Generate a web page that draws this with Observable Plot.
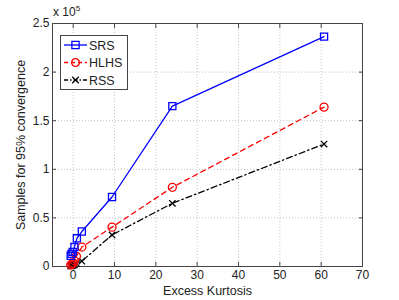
<!DOCTYPE html>
<html><head><meta charset="utf-8">
<script src="https://cdn.jsdelivr.net/npm/d3@7"></script>
<script src="https://cdn.jsdelivr.net/npm/@observablehq/plot@0.6"></script>
<style>body{margin:0;background:#fff}svg{font-family:"Liberation Sans",Arial,sans-serif}</style>
</head><body><div id="chart"></div>
<script>
// Excess kurtosis (x) and samples for 95% convergence (y)
const srsX = [-0.6, -0.4, -0.1, 0.3, 0.9, 2.1, 9.4, 24, 60.7];
const srsY = [110000, 130000, 150000, 200000, 290000, 360000, 715000, 1650000, 2365000];
const hlhsX = [-0.6, -0.3, 0, 0.3, 0.8, 2.1, 9.4, 24, 60.7];
const hlhsY = [15000, 25000, 35000, 60000, 105000, 200000, 405000, 815000, 1640000];
const rssX = [-0.6, -0.3, 0, 0.3, 0.8, 2.1, 9.4, 24, 60.7];
const rssY = [5000, 8000, 12000, 18000, 30000, 55000, 325000, 650000, 1260000];
const seriesNames = ["SRS", "HLHS", "RSS"];
const xTicks = [0, 10, 20, 30, 40, 50, 60, 70];
const yTickVals = [0, 0.5, 1, 1.5, 2, 2.5];

// values are plotted in units of 10^5 samples
const toRows = (xs, ys, s) => xs.map((x, i) => ({x, y: ys[i] / 1e6, s}));
const srs = toRows(srsX, srsY, "SRS");
const hlhs = toRows(hlhsX, hlhsY, "HLHS");
const rss = toRows(rssX, rssY, "RSS");

const colors = {SRS: "#0000ff", HLHS: "#ff0000", RSS: "#000000"};
const dashes = {SRS: null, HLHS: "5,4", RSS: "6,3,1.5,3"};
const grid = {stroke: "#b0b0b0", strokeDasharray: "1,2", strokeWidth: 0.8};

const plot = Plot.plot({
  width: 399, height: 300,
  marginLeft: 52, marginRight: 37, marginTop: 23, marginBottom: 34,
  style: {fontSize: "12px", fontFamily: "Liberation Sans, Arial, sans-serif", background: "#fff"},
  x: {domain: [-5, 70], ticks: xTicks},
  y: {domain: [0, 2.5], ticks: yTickVals},
  marks: [
    Plot.ruleX(xTicks.slice(0, -1), {...grid}),
    Plot.ruleY(yTickVals.slice(1, -1), {...grid}),
    Plot.frame({stroke: "#444", strokeWidth: 1}),
    Plot.axisX({ticks: xTicks, tickSize: -4, tickPadding: 8, tickFormat: d => d, stroke: "#444", color: "#222", label: null}),
    Plot.axisX({ticks: xTicks, anchor: "top", tickSize: -4, tickFormat: () => "", stroke: "#444", label: null}),
    Plot.axisY({ticks: yTickVals, tickSize: -4, tickPadding: 7, tickFormat: d => d, stroke: "#444", color: "#222", label: null}),
    Plot.axisY({ticks: yTickVals, anchor: "right", tickSize: -4, tickFormat: () => "", stroke: "#444", label: null}),
    Plot.line(rss, {x: "x", y: "y", stroke: colors.RSS, strokeWidth: 1.3, strokeDasharray: dashes.RSS}),
    Plot.line(hlhs, {x: "x", y: "y", stroke: colors.HLHS, strokeWidth: 1.3, strokeDasharray: dashes.HLHS}),
    Plot.line(srs, {x: "x", y: "y", stroke: colors.SRS, strokeWidth: 1.3}),
    Plot.dot(rss, {x: "x", y: "y", symbol: "times", r: 3, stroke: colors.RSS, strokeWidth: 1.3}),
    Plot.dot(hlhs, {x: "x", y: "y", symbol: "circle", r: 4, stroke: colors.HLHS, strokeWidth: 1.3}),
    Plot.dot(srs, {x: "x", y: "y", symbol: "square", r: 4, stroke: colors.SRS, strokeWidth: 1.3}),
    Plot.text(["Excess Kurtosis"], {frameAnchor: "bottom", dy: 28, fontSize: 12.5, fill: "#222"}),
    Plot.text(["Samples for 95% convergence"], {frameAnchor: "left", textAnchor: "middle", dx: -32, rotate: -90, fontSize: 12.5, fill: "#222"})
  ]
});

const svg = d3.select(plot);
// exponent label
const ex = svg.append("text").attr("x", 53).attr("y", 16).attr("font-size", 12)
  .attr("text-anchor", "start").attr("fill", "#222");
ex.append("tspan").text("x 10");
ex.append("tspan").attr("dy", -5).attr("font-size", 8).text("5");

// legend
const lg = svg.append("g").attr("text-anchor", "start");
lg.append("rect").attr("x", 60.5).attr("y", 35.5).attr("width", 67).attr("height", 54)
  .attr("fill", "#fff").attr("stroke", "#444").attr("stroke-width", 1);
const symFor = {SRS: d3.symbolSquare, HLHS: d3.symbolCircle, RSS: d3.symbolTimes};
const symSize = {SRS: 52, HLHS: 48, RSS: 30};
seriesNames.forEach((name, i) => {
  const yy = 45 + i * 17.5;
  lg.append("line").attr("x1", 64).attr("x2", 87).attr("y1", yy).attr("y2", yy)
    .attr("stroke", colors[name]).attr("stroke-width", 1.3)
    .attr("stroke-dasharray", dashes[name] ? (name === "HLHS" ? "4,3" : "4,2,1.5,2") : null);
  lg.append("path").attr("transform", `translate(75.5,${yy})`)
    .attr("d", d3.symbol(symFor[name], symSize[name])())
    .attr("fill", "none").attr("stroke", colors[name]).attr("stroke-width", 1.3);
  lg.append("text").attr("x", 89).attr("y", yy + 4.5).attr("font-size", 12.5).attr("fill", "#222").text(name);
});

document.getElementById("chart").appendChild(plot);
</script></body></html>
